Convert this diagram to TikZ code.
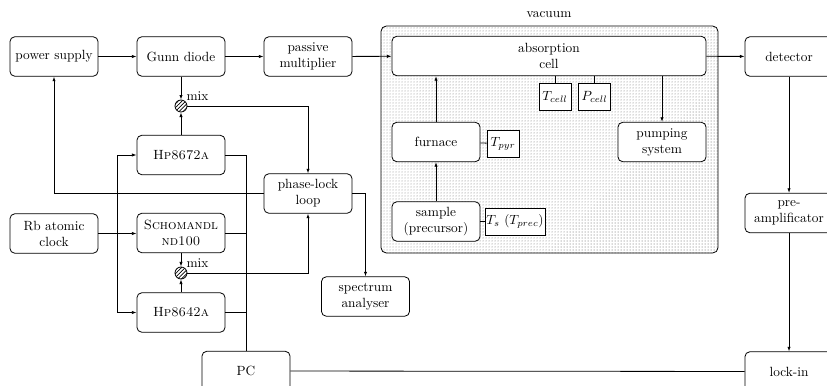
\documentclass[tikz,border=0pt]{standalone}
\usetikzlibrary{arrows.meta,patterns,patterns.meta}
\begin{document}
\begin{tikzpicture}[x=0.75pt,y=-0.75pt,
  line width=0.6pt,
  box/.style={draw,rounded corners=3.5pt,minimum width=66pt,minimum height=29.5pt,
              align=center,inner sep=2pt,font=\normalsize},
  sensor/.style={draw,minimum width=#1,minimum height=20.25pt,inner sep=1pt,fill=white},
  sensor/.default=24pt,
  mixer/.style={draw,circle,minimum size=9pt,inner sep=0pt,
                pattern={Lines[angle=45,distance=2pt,line width=0.5pt]}},
  arr/.style={-{Latex[length=3.5pt,width=2.5pt]}}]
\path[use as bounding box] (0,0) rectangle (827,385);
\clip (0,0) rectangle (827,385);

% vacuum chamber
\node[font=\normalsize] (vaclabel) at (549,15) {vacuum};
\draw[rounded corners=4pt,pattern={Dots[distance=2.25pt,radius=0.37pt]},pattern color=black!80]
  (381,26) rectangle (718,253);

% source chain
\node[box] (ps)   at (54,56.5)  {power supply};
\node[box] (gunn) at (181,56.5) {Gunn diode};
\node[box] (mult) at (308,56.5) {passive\\multiplier};
\node[box,minimum width=235.5pt,fill=white] (abs) at (549,56) {absorption\\cell};
\node[box] (det)  at (789,56.5) {detector};

% cell sensors and periphery
\node[sensor] (tcell) at (555,96.5) {$T_{cell}$};
\node[sensor] (pcell) at (594.5,96.5) {$P_{cell}$};
\node[box,fill=white] (furn) at (436,142) {furnace};
\node[sensor] (tpyr) at (503,143.5) {$T_{pyr}$};
\node[box,fill=white] (pump) at (662,142) {pumping\\system};
\node[box,fill=white] (samp) at (436,221.5) {sample\\(precursor)};
\node[sensor=42pt] (ts) at (515,221.5) {$T_s$ ($T_{prec}$)};

% frequency reference chain
\node[box] (hpa)   at (181,155)   {\textsc{Hp8672a}};
\node[box] (pll)   at (308,193.5) {phase-lock\\loop};
\node[box] (rb)    at (54,233.5)  {Rb atomic\\clock};
\node[box] (schom) at (181,233)   {\textsc{Schomandl}\\\textsc{nd100}};
\node[box] (hpb)   at (181,312.5) {\textsc{Hp8642a}};
\node[box] (spec)  at (365.5,296.5) {spectrum\\analyser};
\node[box] (pre)   at (789,213)   {pre-\\amplificator};
\node[box] (lock)  at (789,371.5) {lock-in};
\node[box] (pc)    at (246,371)   {PC};

\node[mixer] (mixa) at (181,106) {};
\node[mixer] (mixb) at (181,273) {};
\node[anchor=south west,inner sep=0.5pt] (mixal) at (mixa.north east) {mix};
\node[anchor=south west,inner sep=0.5pt] (mixbl) at (mixb.north east) {mix};

% main signal path
\draw[arr] (ps) -- (gunn);
\draw[arr] (gunn) -- (mult);
\draw[arr] (mult) -- (abs);
\draw[arr] (abs) -- (det);
\draw[arr] (det) -- (pre);
\draw[arr] (pre) -- (lock);
\draw (pc) -- (lock);

% inside the chamber
\draw[arr] (samp) -- (furn);
\draw[arr] (furn) -- (furn.north |- abs.south);
\draw[arr] (pump.north |- abs.south) -- (pump);
\draw (tcell) -- (tcell.north |- abs.south);
\draw (pcell) -- (pcell.north |- abs.south);
\draw (furn) -- (tpyr);
\draw (samp) -- (ts);

% phase lock
\draw[arr] (gunn) -- (mixa);
\draw[arr] (hpa) -- (mixa);
\draw[arr] (mixa) -| (pll);
\draw[arr] (schom) -- (mixb);
\draw[arr] (hpb) -- (mixb);
\draw[arr] (mixb) -| (pll);
\draw[arr] (pll) -| (ps);
\draw[arr] (pll) -| (spec);

% reference clock distribution
\coordinate (br) at (117,233.5);
\draw[arr] (rb.east |- br) -- (schom.west |- br);
\draw[arr] (br) |- (hpa);
\draw[arr] (br) |- (hpb);

% computer control bus
\coordinate (bus) at (246,233);
\draw (hpa) -| (pc);
\draw (schom.east) -- (bus);
\draw (hpb.east) -- (hpb.east -| bus);
\end{tikzpicture}
\end{document}
